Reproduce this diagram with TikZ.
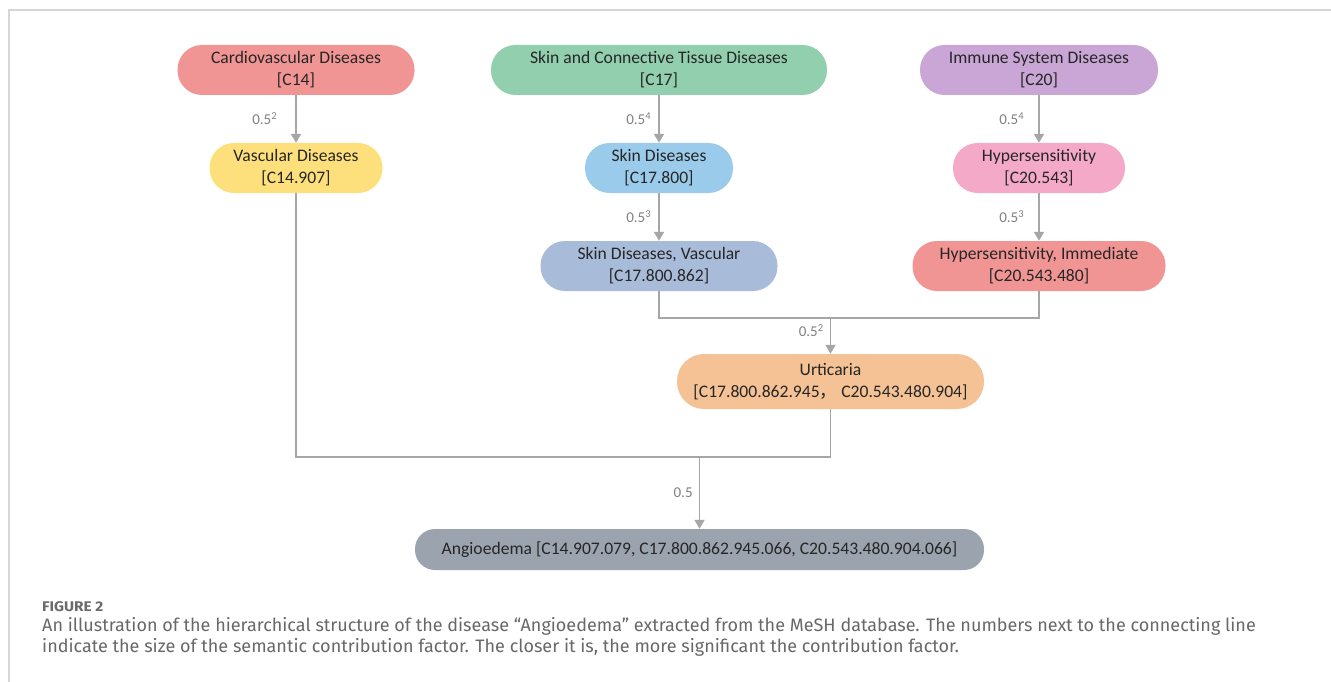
\documentclass[tikz,border=0pt]{standalone}
\usepackage{fontspec}
\usetikzlibrary{arrows.meta}
\newfontfamily\nodefont{Carlito}
\newfontfamily\cjk{Noto Sans CJK SC}
\newfontfamily\capfont{Fira Sans}
\newfontfamily\capheadfont[FakeStretch=1.1]{Fira Sans}
\definecolor{cCardio}{HTML}{F19494}
\definecolor{cVasc}{HTML}{FDE07C}
\definecolor{cSkinCT}{HTML}{92CFAE}
\definecolor{cSkin}{HTML}{9BCBEB}
\definecolor{cSkinV}{HTML}{A8BCDA}
\definecolor{cImm}{HTML}{C9A6D5}
\definecolor{cHyp}{HTML}{F5A9C8}
\definecolor{cHypI}{HTML}{F19494}
\definecolor{cUrt}{HTML}{F5C295}
\definecolor{cAng}{HTML}{9AA3AE}
\definecolor{cLine}{HTML}{A6A6A6}
\definecolor{cLab}{HTML}{808080}
\definecolor{cFrame}{HTML}{D6D6D6}
\definecolor{cCapH}{HTML}{6A6A6A}
\definecolor{cCap}{HTML}{686868}
\tikzset{
  disease/.style={rectangle, rounded corners=24.5pt, minimum height=50pt, inner sep=0pt,
    align=center, text=black!85, font=\nodefont\fontsize{17.6}{22}\selectfont},
  conn/.style={draw=cLine, line width=1.8pt},
  arr/.style={conn, -{Triangle[width=10pt,length=9pt]}},
  wlab/.style={text=cLab, font=\nodefont\fontsize{15}{17}\selectfont, inner sep=0pt},
}
\begin{document}
\begin{tikzpicture}[x=1pt,y=-1pt]
\useasboundingbox (0,0) rectangle (1331,682);
\fill[white] (0,0) rectangle (1331,682);
% frame
\draw[cFrame, line width=1.5pt] (9,682) -- (9,10) -- (1331,10);

% nodes
\node[disease, fill=cCardio, minimum width=237pt] (cardio) at (296,70) {Cardiovascular Diseases\\{}[C14]};
\node[disease, fill=cVasc, minimum width=173pt] (vasc) at (296,168) {Vascular Diseases\\{}[C14.907]};
\node[disease, fill=cSkinCT, minimum width=336pt] (skinct) at (659,70) {Skin and Connective Tissue Diseases\\{}[C17]};
\node[disease, fill=cSkin, minimum width=148pt] (skin) at (659,168) {Skin Diseases\\{}[C17.800]};
\node[disease, fill=cSkinV, minimum width=237pt] (skinv) at (659,266) {Skin Diseases, Vascular\\{}[C17.800.862]};
\node[disease, fill=cImm, minimum width=238pt] (imm) at (1039,70) {Immune System Diseases\\{}[C20]};
\node[disease, fill=cHyp, minimum width=172pt] (hyp) at (1039,168) {Hypersensitivity\\{}[C20.543]};
\node[disease, fill=cHypI, minimum width=253pt] (hypi) at (1039,266) {Hypersensitivity, Immediate\\{}[C20.543.480]};
\node[disease, fill=cUrt, minimum width=307pt, minimum height=55pt, rounded corners=27pt] (urt) at (830.5,381.5) {Urticaria\\{}[C17.800.862.945{\cjk ，} C20.543.480.904]};
\node[disease, fill=cAng, minimum width=569pt, minimum height=41pt, rounded corners=20pt] (ang) at (699.5,549.5) {Angioedema [C14.907.079, C17.800.862.945.066, C20.543.480.904.066]};

% junctions
\coordinate (j1) at (830.5,318);
\coordinate (j2) at (699.5,457);

% connectors
\draw[arr] (cardio) -- node[wlab, anchor=east, xshift=-18pt] (l1) {0.5\textsuperscript{2}} (vasc);
\draw[arr] (skinct) -- node[wlab, anchor=east, xshift=-7pt] (l2) {0.5\textsuperscript{4}} (skin);
\draw[arr] (skin) -- node[wlab, anchor=east, xshift=-7pt] (l3) {0.5\textsuperscript{3}} (skinv);
\draw[arr] (imm) -- node[wlab, anchor=east, xshift=-14pt] (l4) {0.5\textsuperscript{4}} (hyp);
\draw[arr] (hyp) -- node[wlab, anchor=east, xshift=-14pt] (l5) {0.5\textsuperscript{3}} (hypi);
\draw[conn] (skinv.south) |- (j1) -| (hypi.south);
\draw[arr] (j1) -- node[wlab, anchor=east, xshift=-6pt, yshift=5pt] (l6) {0.5\textsuperscript{2}} (urt.north);
\draw[conn] (vasc.south) |- (j2) -| (urt.south);
\draw[arr] (j2) -- node[wlab, anchor=east, xshift=-6pt] (l7) {0.5} (ang.north);

% caption
\node[anchor=base west, inner sep=0pt, text=cCapH, font=\capheadfont\bfseries\fontsize{14}{16}\selectfont] (fig) at (42,611) {FIGURE 2};
\node[anchor=base west, inner sep=0pt, text=cCap, font=\capfont\fontsize{18}{23}\selectfont] (cap1) at (42,631) {An illustration of the hierarchical structure of the disease “Angioedema” extracted from the MeSH database. The numbers next to the connecting line};
\node[anchor=base west, inner sep=0pt, text=cCap, font=\capfont\fontsize{18}{23}\selectfont] (cap2) at (42,652.5) {indicate the size of the semantic contribution factor. The closer it is, the more significant the contribution factor.};
\end{tikzpicture}
\end{document}
